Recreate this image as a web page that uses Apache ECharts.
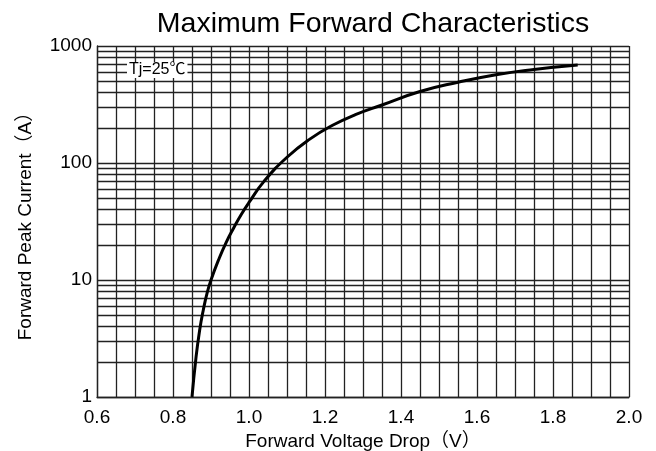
<!DOCTYPE html>
<html>
<head>
<meta charset="utf-8">
<script src="https://cdn.jsdelivr.net/npm/echarts@6/dist/echarts.min.js"></script>
<style>
html,body{margin:0;padding:0;background:#fff;}
#chart{width:656px;height:451px;}
</style>
</head>
<body>
<div id="chart"></div>
<script>
var voltage = [0.85, 0.86, 0.87, 0.88, 0.89, 0.90, 0.92, 0.94, 0.96, 0.98, 1.00, 1.04, 1.10, 1.16, 1.22, 1.28, 1.35, 1.45, 1.55, 1.65, 1.75, 1.865];
var current = [1, 2.1, 3.7, 5.6, 7.8, 10, 14.9, 21, 28, 36.5, 46, 70, 112, 160, 210, 259, 313, 408, 490, 569, 631, 689];
var xTicks = ['0.6', '0.8', '1.0', '1.2', '1.4', '1.6', '1.8', '2.0'];
var yTicks = ['1', '10', '100', '1000'];
var minorGridValues = [2, 3, 4, 5, 6, 7, 8, 9, 20, 30, 40, 50, 60, 70, 80, 90, 200, 300, 400, 500, 600, 700, 800, 900];
var titleText = 'Maximum Forward Characteristics';
var xName = 'Forward Voltage Drop（V）';
var yName = 'Forward Peak Current（A）';
var noteText = 'Tj=25℃';

var font = 'Liberation Sans, Arial, Noto Sans CJK SC, sans-serif';
var gridColor = '#222';
var chart = echarts.init(document.getElementById('chart'), null, {renderer: 'canvas'});
var pts = voltage.map(function (v, i) { return [v, current[i]]; });

chart.setOption({
  animation: false,
  backgroundColor: '#fff',
  title: {
    text: titleText,
    left: 368, textAlign: 'center', top: 5,
    textStyle: {fontFamily: font, fontSize: 28.5, fontWeight: 'normal', color: '#000'}
  },
  grid: {left: 97, right: 27, top: 46, bottom: 54, containLabel: false, outerBoundsMode: 'none'},
  xAxis: {
    type: 'value', min: 0.6, max: 2.0, interval: 0.2,
    name: xName, nameLocation: 'middle', nameGap: 32,
    nameTextStyle: {fontFamily: font, fontSize: 19, color: '#000'},
    axisLine: {show: true, lineStyle: {color: gridColor, width: 1.3}},
    axisTick: {show: false},
    minorTick: {show: false, splitNumber: 4},
    splitLine: {show: true, lineStyle: {color: gridColor, width: 1.3}},
    minorSplitLine: {show: true, lineStyle: {color: gridColor, width: 1.3}},
    axisLabel: {
      margin: 11, fontFamily: font, fontSize: 19, color: '#000',
      formatter: function (v) { return xTicks[Math.round((v - 0.6) / 0.2)]; }
    }
  },
  yAxis: {
    type: 'log', logBase: 10, min: 1, max: 1000,
    name: yName, nameLocation: 'middle', nameGap: 62,
    nameTextStyle: {fontFamily: font, fontSize: 19, color: '#000'},
    axisLine: {show: true, lineStyle: {color: gridColor, width: 1.3}},
    axisTick: {show: false},
    splitLine: {show: true, lineStyle: {color: gridColor, width: 1.3}},
    axisLabel: {
      margin: 5, fontFamily: font, fontSize: 19, color: '#000',
      formatter: function (v) { return yTicks[Math.round(Math.log10(v))]; }
    }
  },
  graphic: [{
    type: 'text', left: 127, top: 62, z: 100,
    style: {text: noteText, fontFamily: font, fontSize: 16, fill: '#000',
      backgroundColor: '#fff', padding: [0, 2, 0, 2]}
  }],
  series: [{
    type: 'line', z: 1, silent: true, data: [],
    markLine: {
      silent: true, symbol: 'none', animation: false,
      label: {show: false},
      lineStyle: {type: 'solid', color: gridColor, width: 1.3},
      data: minorGridValues.map(function (v) { return {yAxis: v}; })
    }
  }, {
    type: 'line', z: 5, data: pts, smooth: 0.5, showSymbol: false,
    lineStyle: {color: '#000', width: 3}
  }]
});
</script>
</body>
</html>
